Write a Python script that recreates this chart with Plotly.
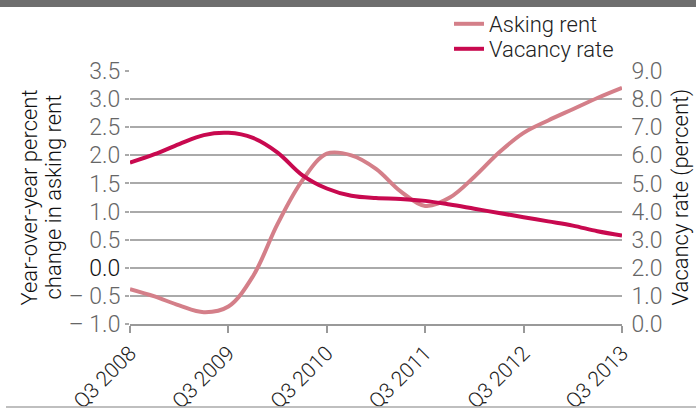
import plotly.graph_objects as go

quarters = [
    "Q3 2008", "Q4 2008", "Q1 2009", "Q2 2009", "Q3 2009", "Q4 2009", "Q1 2010",
    "Q2 2010", "Q3 2010", "Q4 2010", "Q1 2011", "Q2 2011", "Q3 2011", "Q4 2011",
    "Q1 2012", "Q2 2012", "Q3 2012", "Q4 2012", "Q1 2013", "Q2 2013", "Q3 2013",
]
asking_rent = [-0.38, -0.51, -0.67, -0.79, -0.69, -0.15, 0.78, 1.55, 2.03, 2.0, 1.76,
               1.36, 1.1, 1.25, 1.62, 2.05, 2.4, 2.62, 2.82, 3.02, 3.2]
vacancy_rate = [5.74, 6.04, 6.4, 6.72, 6.8, 6.62, 6.1, 5.3, 4.82, 4.56, 4.48,
                4.45, 4.38, 4.25, 4.1, 3.95, 3.8, 3.65, 3.5, 3.3, 3.15]
x_ticks = ["Q3 2008", "Q3 2009", "Q3 2010", "Q3 2011", "Q3 2012", "Q3 2013"]
left_vals = [-1.0, -0.5, 0.0, 0.5, 1.0, 1.5, 2.0, 2.5, 3.0, 3.5]
left_text = ["\u2013 1.0", "\u2013 0.5", "<span style='color:#111'>0.0</span>", "0.5", "1.0",
             "1.5", "2.0", "2.5", "3.0", "3.5"]
right_vals = [0, 1, 2, 3, 4, 5, 6, 7, 8, 9]
right_text = ["0.0", "1.0", "2.0", "3.0", "4.0", "5.0", "6.0", "7.0", "8.0", "9.0"]
left_title = ["Year-over-year percent", "change in asking rent"]
right_title = "Vacancy rate (percent)"

FONT = "Roboto"
W, H = 696, 415
L, R, T, B = 130, 74, 71, 91
PW, PH = W - L - R, H - T - B


def px_x(x):
    return (x - L) / PW


def px_y(y):
    return 1 - (y - T) / PH


fig = go.Figure()
fig.add_trace(go.Scatter(x=quarters, y=asking_rent, name="Asking rent", mode="lines",
                         line=dict(color="#d47f89", width=4, shape="spline", smoothing=1),
                         yaxis="y", legend="legend"))
fig.add_trace(go.Scatter(x=quarters, y=vacancy_rate, name="Vacancy rate", mode="lines",
                         line=dict(color="#c8094f", width=4, shape="spline", smoothing=1),
                         yaxis="y2", legend="legend2"))

title_font = dict(family=FONT, size=22, color="#111", weight=300)
annotations = [
    dict(text=left_title[0], xref="paper", yref="paper", x=px_x(29), y=0.5,
         textangle=-90, showarrow=False, font=title_font, xanchor="center", yanchor="middle"),
    dict(text=left_title[1], xref="paper", yref="paper", x=px_x(53), y=0.5,
         textangle=-90, showarrow=False, font=title_font, xanchor="center", yanchor="middle"),
    dict(text=right_title, xref="paper", yref="paper", x=px_x(680), y=0.5,
         textangle=-90, showarrow=False, font=title_font, xanchor="center", yanchor="middle"),
]

legend_font = dict(family=FONT, size=22, color="#222", weight=300)
fig.update_layout(
    template="none",
    width=W, height=H,
    margin=dict(l=L, r=R, t=T, b=B, autoexpand=False),
    paper_bgcolor="white", plot_bgcolor="white",
    font=dict(family=FONT, size=22, color="#555", weight=300),
    showlegend=True,
    legend=dict(x=px_x(449), y=px_y(3), xanchor="left", yanchor="top",
                font=legend_font, bgcolor="rgba(0,0,0,0)", itemwidth=30),
    legend2=dict(x=px_x(449), y=px_y(28), xanchor="left", yanchor="top",
                 font=legend_font, bgcolor="rgba(0,0,0,0)", itemwidth=30),
    xaxis=dict(type="category", categoryorder="array", categoryarray=quarters,
               range=[0, 20], tickmode="array", tickvals=x_ticks, ticktext=x_ticks,
               tickangle=-45, ticks="outside", ticklen=7, tickcolor="#999", tickwidth=1.5,
               showline=True, linecolor="#999", linewidth=1.5, showgrid=False,
               automargin=False,
               tickfont=dict(family=FONT, size=21, color="#222", weight=300)),
    yaxis=dict(range=[-1, 3.5], tickmode="array", tickvals=left_vals, ticktext=left_text,
               ticks="outside", ticklen=4, tickcolor="#aaa", tickwidth=1.5,
               showgrid=True, gridcolor="#aaaaaa", gridwidth=1.5, zeroline=False,
               showline=False, automargin=False,
               tickfont=dict(family=FONT, size=23, color="#666", weight=300)),
    yaxis2=dict(range=[0, 9], overlaying="y", side="right", tickmode="array",
                tickvals=right_vals, ticktext=right_text,
                ticks="outside", ticklen=4, tickcolor="rgba(0,0,0,0)",
                showgrid=True, gridcolor="#aaaaaa", gridwidth=1.5, zeroline=False,
                showline=False, automargin=False,
                tickfont=dict(family=FONT, size=23, color="#666", weight=300)),
    annotations=annotations,
    shapes=[
        dict(type="rect", xref="paper", yref="paper", x0=px_x(0), x1=px_x(W),
             y0=px_y(7), y1=px_y(0), fillcolor="#6e6e6e",
             line=dict(width=0), layer="below"),
        dict(type="line", xref="paper", yref="paper", x0=px_x(6), x1=px_x(W),
             y0=px_y(407), y1=px_y(407),
             line=dict(color="#aaa", width=1.5)),
    ],
)

fig.write_html("out.html", config={"displayModeBar": False},
               post_script="document.body.style.margin='0';document.body.style.overflow='hidden';")
